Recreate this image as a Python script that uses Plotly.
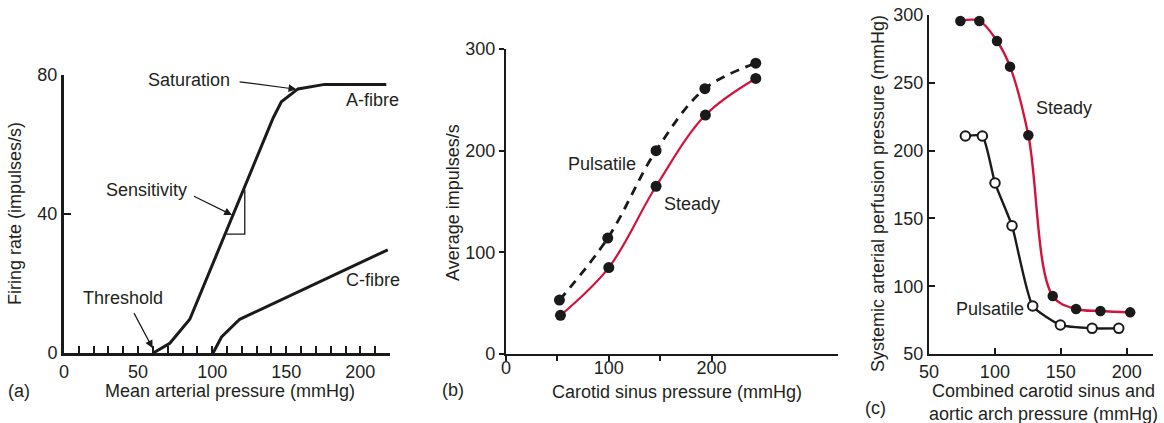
import plotly.graph_objects as go

# ---------------- data ----------------
# Panel (a)
a_fibre_x = [60.2, 71.4, 84.9, 141.0, 146.7, 157.9, 175.9, 217.5]
a_fibre_y = [0, 2.8, 9.7, 67.5, 72.3, 76.0, 77.3, 77.3]
c_fibre_x = [100.6, 106.3, 118.6, 218.5]
c_fibre_y = [0, 4.6, 9.7, 29.7]
sens_x = [109.6, 122.0, 122.0]
sens_y = [34.2, 34.2, 47.0]
a_xticks = [0, 50, 100, 150, 200]
a_yticks = [0, 40, 80]

# Panel (b)
b_pulsatile_x = [52, 99, 146, 193.5, 243]
b_pulsatile_y = [53, 114, 200, 261, 286]
b_steady_x = [53, 100, 146, 194, 243]
b_steady_y = [38, 85, 165, 235, 271]
b_xticks = [0, 100, 200]
b_yticks = [0, 100, 200, 300]

# Panel (c)
c_steady_x = [73.8, 88.2, 101.6, 111.5, 125.4, 143.9, 161.6, 180.1, 202.7]
c_steady_y = [295.6, 295.6, 280.8, 261.9, 211.3, 92.8, 83.2, 81.7, 80.7]
c_pulsatile_x = [77.6, 90.5, 100.1, 113.0, 128.7, 149.7, 173.8, 194.0]
c_pulsatile_y = [210.8, 210.8, 176.1, 144.6, 85.4, 71.4, 68.9, 68.9]
c_xticks = [50, 100, 150, 200]
c_yticks = [50, 100, 150, 200, 250, 300]

# ---------------- style ----------------
W, H = 1164, 423
FONT = "Liberation Sans, Arial, Helvetica, sans-serif"
FS = 18
TXT = "#231f20"
BLK = "#1a1a1a"
RED = "#d2143c"


def px(x):
    return x / W


def py(y):
    return 1 - y / H


fig = go.Figure()

# Panel (a)
fig.add_trace(go.Scatter(x=a_fibre_x, y=a_fibre_y, mode="lines",
                         line=dict(color=BLK, width=3), xaxis="x", yaxis="y"))
fig.add_trace(go.Scatter(x=c_fibre_x, y=c_fibre_y, mode="lines",
                         line=dict(color=BLK, width=3), xaxis="x", yaxis="y"))
fig.add_trace(go.Scatter(x=sens_x, y=sens_y, mode="lines",
                         line=dict(color=BLK, width=1.3), xaxis="x", yaxis="y"))

# Panel (b)
fig.add_trace(go.Scatter(x=b_pulsatile_x, y=b_pulsatile_y, mode="lines+markers",
                         line=dict(color=BLK, width=2.8, dash="9px,7px", shape="spline"),
                         marker=dict(color=BLK, size=11),
                         xaxis="x2", yaxis="y2"))
fig.add_trace(go.Scatter(x=b_steady_x, y=b_steady_y, mode="lines+markers",
                         line=dict(color=RED, width=2.2, shape="spline"),
                         marker=dict(color=BLK, size=11),
                         xaxis="x2", yaxis="y2"))

# Panel (c)
fig.add_trace(go.Scatter(x=c_steady_x, y=c_steady_y, mode="lines+markers",
                         line=dict(color=RED, width=2.4, shape="spline", smoothing=1.0),
                         marker=dict(color=BLK, size=10.5),
                         xaxis="x3", yaxis="y3"))
fig.add_trace(go.Scatter(x=c_pulsatile_x, y=c_pulsatile_y, mode="lines+markers",
                         line=dict(color=BLK, width=2.4, shape="spline", smoothing=0.5),
                         marker=dict(color="white", size=9.5, line=dict(color=BLK, width=2)),
                         xaxis="x3", yaxis="y3"))

axis_common = dict(showline=True, linecolor=BLK, showgrid=False, zeroline=False,
                   automargin=False, tickcolor=BLK,
                   tickfont=dict(family=FONT, size=FS, color=TXT),
                   fixedrange=True)

layout = dict(
    width=W, height=H, margin=dict(l=0, r=0, t=0, b=0, autoexpand=False),
    paper_bgcolor="white", plot_bgcolor="white", showlegend=False,
    font=dict(family=FONT, size=FS, color=TXT),
    xaxis=dict(axis_common, domain=[px(64), px(390)], range=[0, 220], anchor="y",
               tickmode="array", tickvals=a_xticks, ticks="inside", ticklen=7, tickwidth=2,
               linewidth=3,
               minor=dict(ticks="inside", dtick=10, tick0=0, ticklen=7, tickwidth=2, tickcolor=BLK)),
    yaxis=dict(axis_common, domain=[py(353), py(75)], range=[0, 80], anchor="x",
               tickmode="array", tickvals=a_yticks, ticks="inside", ticklen=7, tickwidth=2,
               linewidth=3),
    xaxis2=dict(axis_common, domain=[px(506), px(838)], range=[0, 323], anchor="y2",
                tickmode="array", tickvals=b_xticks, ticks="outside", ticklen=5, tickwidth=2,
                linewidth=2.2, ticklabelstandoff=-9,
                minor=dict(ticks="outside", tickmode="array", tickvals=[50, 150],
                           ticklen=5, tickwidth=2, tickcolor=BLK)),
    yaxis2=dict(axis_common, domain=[py(354), py(49)], range=[0, 300], anchor="x2",
                tickmode="array", tickvals=b_yticks, ticks="outside", ticklen=5, tickwidth=2,
                linewidth=2.2),
    xaxis3=dict(axis_common, domain=[px(929), px(1153)], range=[50, 220], anchor="y3",
                tickmode="array", tickvals=c_xticks, ticks="inside", ticklen=6, tickwidth=2,
                linewidth=2.2),
    yaxis3=dict(axis_common, domain=[py(354), py(15)], range=[50, 300], anchor="x3",
                tickmode="array", tickvals=c_yticks, ticks="inside", ticklen=6, tickwidth=2,
                linewidth=2.2),
)
fig.update_layout(**layout)

ann = []


def paper_text(text, x, y, angle=0):
    ann.append(dict(text=text, x=px(x), y=py(y), xref="paper", yref="paper",
                    xanchor="center", yanchor="middle", showarrow=False,
                    textangle=angle, font=dict(family=FONT, size=FS, color=TXT)))


def data_text(text, x, y, xr, yr):
    ann.append(dict(text=text, x=x, y=y, xref=xr, yref=yr, xanchor="center",
                    yanchor="middle", showarrow=False,
                    font=dict(family=FONT, size=FS, color=TXT)))


def arrow(x0, y0, x1, y1):
    ann.append(dict(text="", x=x1, y=y1, ax=x0, ay=y0, xref="x", yref="y",
                    axref="x", ayref="y", showarrow=True, arrowhead=2,
                    arrowsize=1.3, arrowwidth=1.2, arrowcolor=BLK, standoff=0))


# axis titles & panel labels
paper_text("Mean arterial pressure (mmHg)", 230, 391)
paper_text("Firing rate (impulses/s)", 15, 214, -90)
paper_text("(a)", 19, 391)
paper_text("Carotid sinus pressure (mmHg)", 677, 392)
paper_text("Average impulses/s", 453, 203, -90)
paper_text("(b)", 453, 390)
paper_text("Combined carotid sinus and<br>aortic arch pressure (mmHg)", 1043, 402)
paper_text("Systemic arterial perfusion pressure (mmHg)", 878, 194, -90)
paper_text("(c)", 875, 408)

# panel (a) labels
data_text("Saturation", 84.5, 78.5, "x", "y")
data_text("A-fibre", 208.4, 72.8, "x", "y")
data_text("C-fibre", 208.4, 21.0, "x", "y")
data_text("Sensitivity", 55.6, 46.9, "x", "y")
data_text("Threshold", 39.9, 15.7, "x", "y")
arrow(117.5, 78.1, 156.8, 75.9)
arrow(86.7, 45.3, 113.4, 39.7)
arrow(46.7, 11.9, 59.8, 1.4)

# panel (b) labels
data_text("Pulsatile", 93, 187, "x2", "y2")
data_text("Steady", 180.6, 147.7, "x2", "y2")

# panel (c) labels
data_text("Steady", 152.8, 231.2, "x3", "y3")
data_text("Pulsatile", 96.3, 82.9, "x3", "y3")

fig.update_layout(annotations=ann)
fig.write_html("out.html", config={"displayModeBar": False, "staticPlot": True},
               post_script="document.body.style.margin='0';document.body.style.overflow='hidden';")
